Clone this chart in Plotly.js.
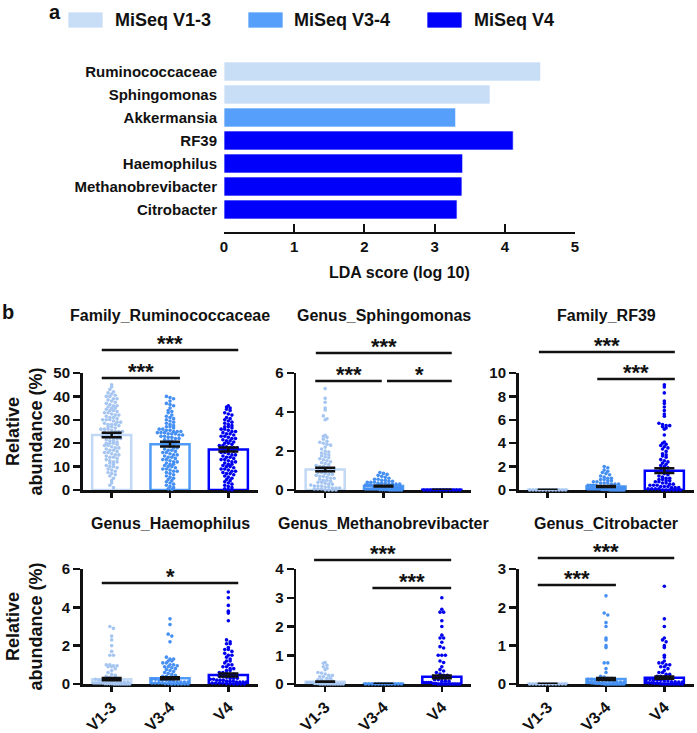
<!DOCTYPE html>
<html><head><meta charset="utf-8">
<script src="https://cdn.plot.ly/plotly-3.0.1.min.js"></script>
<style>html,body{margin:0;padding:0;background:#fff;}#chart{width:697px;height:733px;}</style>
</head><body><div id="chart"></div>
<script>
// ================= DATA =================
// Panel a: LEfSe LDA scores
const ldaTaxa  = ['Ruminococcaceae','Sphingomonas','Akkermansia','RF39','Haemophilus','Methanobrevibacter','Citrobacter'];
const ldaScore = [4.51, 3.79, 3.30, 4.12, 3.40, 3.39, 3.32];
const ldaGroup = [0, 0, 1, 2, 2, 2, 2];          // index into groupNames
const groupNames = ['MiSeq V1-3', 'MiSeq V3-4', 'MiSeq V4'];
const regionLabels = ['V1-3', 'V3-4', 'V4'];
const ldaTicks = [0, 1, 2, 3, 4, 5];

// Panel b: relative abundance (%) per sample
const panelTitles = ['Family_Ruminococcaceae','Genus_Sphingomonas','Family_RF39',
                     'Genus_Haemophilus','Genus_Methanobrevibacter','Genus_Citrobacter'];
const yMax  = [50, 6, 10, 6, 4, 3];
const yStep = [10, 2, 2, 2, 1, 1];

const rumV13 = [45,44,43,42,41.5,41,40.5,40,40,39,39,38.5,38,37.5,37,36.5,36,36,35.5,35,35,34.5,34,34,33.5,33,33,32.5,32,32,31.5,31,31,30.5,30,30,30,29.5,29,29,28.5,28,28,28,27.5,27,27,26.5,26,26,26,25.5,25,25,25,24.5,24,24,24,23.5,23,23,22.5,22,22,22,21.5,21,21,20.5,20,20,20,19.5,19,19,18.5,18,18,17.5,17,17,16.5,16,16,15.5,15,15,14.5,14,14,13.5,13,12.5,12,12,11.5,11,10.5,10,10,9.5,9,8.5,8,7.5,7,6.5,6,5,4,3,2,1];
const rumV34 = [40,39.5,39,38,37,36.5,36,35,34,33.5,33,32,31.5,31,30.5,30,29.5,29,28.5,28,27.5,27,27,26.5,26,26,25.5,25.5,25,25,25,24.5,24.5,24.5,24,24,24,23.5,23.5,23,23,22.5,22.5,22,22,21.5,21,21,20.5,20,20,19.5,19,19,18.5,18,18,17.5,17,17,16.5,16,16,15.5,15,15,14.5,14,14,13.5,13,13,12.5,12,12,11.5,11,11,10.5,10,10,9.5,9,9,8.5,8,8,7.5,7,6.5,6,5.5,5,4.5,4,3.5,3,2.5,2,1.5,1,0.5,0.2];
const rumV4  = [36,35.5,35,34.5,34,33,32.5,32,31,30.5,30,29.5,29,28.5,28,27.5,27,27,26.5,26,26,25.5,25,25,24.5,24,24,23.5,23,23,22.5,22,22,21.5,21,21,20.5,20,20,19.5,19,19,18.5,18,18,18,17.5,17,17,16.5,16,16,15.5,15,15,14.5,14,14,13.5,13,13,12.5,12,12,11.5,11,11,10.5,10,10,9.5,9,9,8.5,8,8,7.5,7,7,6.5,6,5.5,5,4.5,4,3.5,3,2.5,2,1.5,1,0.5,0.2,0];

const sphV13 = [5.2,4.7,4.5,4.2,4.1,3.8,3.65,3.6,2.8,2.75,2.7,2.6,2.5,2.45,2.4,2.35,2.3,2.2,2.1,2.0,1.95,1.9,1.85,1.8,1.75,1.7,1.65,1.6,1.55,1.5,1.45,1.4,1.35,1.3,1.25,1.2,1.2,1.15,1.1,1.1,1.05,1.0,1.0,0.95,0.9,0.9,0.85,0.8,0.8,0.75,0.7,0.7,0.65,0.6,0.6,0.55,0.5,0.5,0.45,0.4,0.4,0.35,0.3,0.3,0.25,0.2,0.2,0.2,0.15,0.15,0.1,0.1,0.1,0.05,0.05,0.05,0,0,0,0];
const sphV34 = [0.9,0.85,0.8,0.75,0.7,0.65,0.6,0.55,0.55,0.5,0.5,0.45,0.45,0.4,0.4,0.4,0.35,0.35,0.35,0.3,0.3,0.3,0.3,0.25,0.25,0.25,0.25,0.2,0.2,0.2,0.2,0.2,0.15,0.15,0.15,0.15,0.15,0.1,0.1,0.1,0.1,0.1,0.1,0.05,0.05,0.05,0.05,0.05,0.05,0.02,0.02,0.02,0.02,0,0,0,0,0,0];
const sphV4  = [0,0,0,0,0,0,0,0,0,0,0,0];

const rfV13 = [0,0,0,0,0,0,0,0,0,0,0,0];
const rfV34 = [2.0,1.9,1.7,1.6,1.5,1.4,1.3,1.2,1.1,1.0,1.0,0.9,0.9,0.8,0.8,0.7,0.7,0.6,0.6,0.6,0.5,0.5,0.5,0.4,0.4,0.4,0.4,0.3,0.3,0.3,0.3,0.3,0.2,0.2,0.2,0.2,0.2,0.2,0.1,0.1,0.1,0.1,0.1,0.1,0.1,0.05,0.05,0.05,0.05,0,0,0,0,0,0,0,0];
const rfV4  = [9.0,8.8,8.3,7.6,7.4,7.1,6.8,6.5,6.3,5.7,5.6,5.5,5.5,5.4,5.3,5.2,4.7,4.1,4.0,3.9,3.8,3.7,3.6,3.5,3.3,3.1,3.0,2.9,2.8,2.6,2.5,2.4,2.3,2.2,2.1,2.0,1.9,1.8,1.7,1.6,1.5,1.4,1.3,1.2,1.1,1.0,1.0,0.9,0.9,0.8,0.8,0.7,0.7,0.6,0.6,0.5,0.5,0.4,0.4,0.4,0.3,0.3,0.3,0.2,0.2,0.2,0.1,0.1,0.1,0.1,0,0,0,0,0,0];

const haeV13 = [3.0,2.9,2.5,2.3,2.0,1.7,1.5,1.5,1.0,1.0,0.95,0.95,0.9,0.9,0.8,0.7,0.6,0.5,0.45,0.4,0.35,0.3,0.3,0.25,0.2,0.2,0.2,0.15,0.15,0.1,0.1,0.1,0.1,0.05,0.05,0.05,0.05,0.05,0.02,0.02,0.02,0.02,0,0,0,0,0,0,0,0];
const haeV34 = [3.4,3.1,2.6,2.5,2.2,1.4,1.3,1.3,1.2,1.2,1.1,1.1,1.0,1.0,0.95,0.9,0.9,0.85,0.8,0.75,0.7,0.65,0.6,0.55,0.5,0.45,0.4,0.4,0.35,0.3,0.3,0.25,0.25,0.2,0.2,0.2,0.15,0.15,0.1,0.1,0.1,0.1,0.05,0.05,0.05,0.05,0.02,0.02,0,0,0,0,0,0];
const haeV4  = [4.8,4.5,4.1,3.8,3.7,3.3,2.3,2.2,2.1,2.1,1.9,1.8,1.8,1.7,1.6,1.5,1.5,1.4,1.3,1.2,1.2,1.1,1.0,1.0,0.9,0.9,0.8,0.8,0.7,0.7,0.6,0.6,0.55,0.5,0.5,0.45,0.4,0.4,0.35,0.3,0.3,0.3,0.25,0.25,0.2,0.2,0.2,0.15,0.15,0.15,0.1,0.1,0.1,0.1,0.05,0.05,0.05,0.05,0.02,0.02,0,0,0,0];

const metV13 = [0.75,0.72,0.65,0.6,0.55,0.5,0.4,0.38,0.35,0.3,0.3,0.25,0.25,0.2,0.2,0.15,0.15,0.1,0.1,0.1,0.05,0.05,0.05,0.02,0.02,0,0,0,0,0,0,0,0,0,0];
const metV34 = [0,0,0,0,0,0,0,0,0,0,0,0];
const metV4  = [3.0,2.6,2.5,2.5,2.2,2.0,1.7,1.6,1.6,1.45,1.3,1.25,1.0,1.0,1.0,0.8,0.75,0.6,0.5,0.45,0.4,0.35,0.3,0.3,0.25,0.2,0.2,0.15,0.15,0.1,0.1,0.1,0.05,0.05,0.05,0.05,0.02,0.02,0,0,0,0,0,0,0,0,0,0];

const citV13 = [0,0,0,0,0,0,0,0,0,0,0,0];
const citV34 = [2.3,1.85,1.8,1.6,1.5,1.2,1.15,1.0,0.95,0.55,0.55,0.4,0.3,0.2,0.18,0.15,0.15,0.12,0.12,0.1,0.1,0.1,0.08,0.08,0.06,0.06,0.05,0.05,0.04,0.04,0.03,0.03,0.02,0.02,0.02,0.01,0.01,0,0,0,0,0,0,0,0,0,0,0];
const citV4  = [2.55,1.7,1.5,1.2,1.15,1.1,1.0,0.95,0.75,0.7,0.6,0.55,0.55,0.5,0.5,0.45,0.45,0.4,0.35,0.3,0.3,0.25,0.25,0.2,0.2,0.18,0.15,0.15,0.12,0.12,0.1,0.1,0.1,0.08,0.08,0.06,0.06,0.05,0.05,0.04,0.03,0.03,0.02,0.02,0.01,0,0,0,0,0,0,0,0];

// bar heights (mean) and error (SEM); null = no error bar drawn
const rumMean = [23.5, 19.6, 17.3],  rumSem = [1.0, 1.05, 0.85];
const sphMean = [1.05, 0.2, 0.01],   sphSem = [0.09, 0.02, null];
const rfMean  = [0.02, 0.3, 1.65],   rfSem  = [null, 0.04, 0.2];
const haeMean = [0.25, 0.3, 0.47],   haeSem = [0.06, 0.05, 0.08];
const metMean = [0.08, 0.01, 0.25],  metSem = [0.005, null, 0.05];
const citMean = [0.005, 0.13, 0.165],citSem = [null, 0.025, 0.03];

// significance comparisons
const sigLabels = [
  [{a:0,b:1,t:'***'},{a:0,b:2,t:'***'}],
  [{a:0,b:1,t:'***'},{a:1,b:2,t:'*'},{a:0,b:2,t:'***'}],
  [{a:1,b:2,t:'***'},{a:0,b:2,t:'***'}],
  [{a:0,b:2,t:'*'}],
  [{a:1,b:2,t:'***'},{a:0,b:2,t:'***'}],
  [{a:0,b:1,t:'***'},{a:0,b:2,t:'***'}]
];

// ================= STYLE / GEOMETRY =================
const W = 697, H = 733;
const FONT = "'Liberation Sans', Arial, Helvetica, sans-serif";
const barFill   = ['#c8ddf6', '#56a0fb', '#0000fb'];
const barEdge   = ['#c2d9f5', '#4f9bf5', '#0000ff'];
const dotColor  = ['#a6c6f1', '#4690f3', '#0000ee'];
const px = x => x / W;
const py = y => 1 - y / H;

const groups = [
  [rumV13, rumV34, rumV4], [sphV13, sphV34, sphV4], [rfV13, rfV34, rfV4],
  [haeV13, haeV34, haeV4], [metV13, metV34, metV4], [citV13, citV34, citV4]
];
const means = [rumMean, sphMean, rfMean, haeMean, metMean, citMean];
const sems  = [rumSem, sphSem, rfSem, haeSem, metSem, citSem];

const colX0 = [82.5, 296, 518.5], panelW = 175;
const rowTop = [373, 569], rowBot = [490, 684];
// pixel y of each significance line (same order as sigLabels) and end offsets
const sigY = [[378, 350], [381, 381, 353], [379, 352], [583], [588, 560], [585, 558]];
const sigEnds = [[[-0.17,0.17],[-0.17,0.17]], [[-0.17,-0.03],[0.06,0.17],[-0.16,0.17]],
                 [[-0.15,0.18],[-0.15,0.18]], [[-0.17,0.17]], [[-0.19,0.16],[-0.19,0.16]], [[-0.17,0.17],[-0.17,0.17]]];

// ================= BUILD =================
const traces = [], shapes = [], annotations = [];
const layout = {
  width: W, height: H, margin: {l:0, r:0, t:0, b:0},
  paper_bgcolor: '#fff', plot_bgcolor: 'rgba(0,0,0,0)',
  showlegend: false, font: {family: FONT, color: '#111'},
  bargap: 0
};

// ---- panel a ----
traces.push({
  type: 'bar', orientation: 'h', xaxis: 'x', yaxis: 'y',
  x: ldaScore, y: ldaTaxa.map((_, i) => i), width: 0.83,
  marker: {color: ldaGroup.map(g => barFill[g]), line: {color: 'rgba(255,255,255,0.7)', width: 1}},
  hoverinfo: 'skip'
});
layout.xaxis = {
  domain: [px(224), px(575)], range: [0, 5], anchor: 'y',
  showline: true, linewidth: 2, linecolor: '#111', ticks: 'inside', ticklen: 8, tickwidth: 2, tickcolor: '#111',
  tickvals: ldaTicks, ticktext: ldaTicks.map(String),
  tickfont: {family: FONT, size: 15, color: '#111', weight: 'bold'},
  showgrid: false, zeroline: false, fixedrange: true
};
layout.yaxis = {
  domain: [py(232), py(57.7)], range: [6.978, -0.6], anchor: 'x',
  tickvals: ldaTaxa.map((_, i) => i), ticktext: ldaTaxa, ticks: '', showline: false,
  ticklabelstandoff: 6,
  tickfont: {family: FONT, size: 15, color: '#111', weight: 'bold'},
  showgrid: false, zeroline: false, fixedrange: true
};
annotations.push({xref:'paper', yref:'paper', x: px(399.5), y: py(272), text: 'LDA score (log 10)', showarrow: false,
  xanchor: 'center', yanchor: 'middle', font: {family: FONT, size: 16, color: '#111', weight: 'bold'}});
// legend
const legRectX = [68, 248, 427], legTextX = [113, 292, 472];
groupNames.forEach((g, i) => {
  shapes.push({type: 'rect', xref: 'paper', yref: 'paper', x0: px(legRectX[i]), x1: px(legRectX[i] + 35),
    y0: py(28), y1: py(12), fillcolor: barFill[i], line: {color: 'rgba(255,255,255,0.7)', width: 1}});
  annotations.push({xref:'paper', yref:'paper', x: px(legTextX[i]), y: py(20), text: g, showarrow: false,
    xanchor: 'left', yanchor: 'middle', font: {family: FONT, size: 18, color: '#111', weight: 'bold'}});
});
annotations.push({xref:'paper', yref:'paper', x: px(55), y: py(12), text: 'a', showarrow: false,
  xanchor: 'center', yanchor: 'middle', font: {family: FONT, size: 20, color: '#111', weight: 'bold'}});
annotations.push({xref:'paper', yref:'paper', x: px(8), y: py(312), text: 'b', showarrow: false,
  xanchor: 'center', yanchor: 'middle', font: {family: FONT, size: 20, color: '#111', weight: 'bold'}});

// ---- panel b ----
const pxPerCat = panelW / 3;
function swarm(vals, cat, pxPerUnit) {
  const bin = 3.3, sp = 3.6, maxHalf = 18;
  const rows = {};
  vals.forEach((v, i) => { const k = Math.round(v * pxPerUnit / bin); (rows[k] = rows[k] || []).push(i); });
  const xs = new Array(vals.length);
  Object.keys(rows).forEach(k => {
    const idx = rows[k], n = idx.length;
    let s = sp;
    if (n > 1 && (n - 1) * s / 2 > maxHalf) s = 2 * maxHalf / (n - 1);
    idx.forEach((ii, j) => { xs[ii] = cat + ((j - (n - 1) / 2) * s) / pxPerCat; });
  });
  return xs;
}

for (let p = 0; p < 6; p++) {
  const row = Math.floor(p / 3), col = p % 3;
  const ax = p + 2, xa = 'x' + ax, ya = 'y' + ax;
  const x0 = colX0[col], top = rowTop[row], bot = rowBot[row];
  const pxPerUnit = (bot - top) / yMax[p];

  layout['xaxis' + ax] = {
    domain: [px(x0), px(x0 + panelW)], range: [-0.5, 2.5], anchor: ya,
    showline: true, linewidth: 2.5, linecolor: '#111', ticks: 'outside', ticklen: 5, tickwidth: 2.5, tickcolor: '#111',
    tickvals: [0, 1, 2], ticktext: regionLabels, showticklabels: row === 1, tickangle: -45,
    tickfont: {family: FONT, size: 16, color: '#111', weight: 'bold'},
    showgrid: false, zeroline: false, fixedrange: true, layer: 'below traces'
  };
  layout['yaxis' + ax] = {
    domain: [py(bot), py(top)], range: [0, yMax[p]], anchor: xa,
    tick0: 0, dtick: yStep[p], showline: true, linewidth: 2.5, linecolor: '#111',
    ticks: 'outside', ticklen: 7, tickwidth: 2.5, tickcolor: '#111',
    tickfont: {family: FONT, size: 15, color: '#111', weight: 'bold'},
    showgrid: false, zeroline: false, fixedrange: true, layer: 'below traces'
  };

  // bars (outlined)
  traces.push({
    type: 'bar', xaxis: xa, yaxis: ya, x: [0, 1, 2], y: means[p], width: 0.67,
    marker: {color: 'rgba(255,255,255,0)', line: {color: barEdge, width: 2.5}}, hoverinfo: 'skip'
  });
  // dots
  groups[p].forEach((vals, g) => {
    traces.push({
      type: 'scatter', mode: 'markers', xaxis: xa, yaxis: ya, cliponaxis: false,
      x: swarm(vals, g, pxPerUnit), y: vals,
      marker: {size: 3.6, color: dotColor[g], line: {width: 0}}, hoverinfo: 'skip'
    });
  });
  // mean +/- SEM
  traces.push({
    type: 'scatter', mode: 'markers', xaxis: xa, yaxis: ya, x: [0, 1, 2], y: means[p],
    marker: {size: 1, color: 'rgba(0,0,0,0)'},
    error_y: {type: 'data', array: sems[p], visible: true, color: '#111', thickness: 2.5, width: 10},
    hoverinfo: 'skip'
  });

  // title
  annotations.push({xref:'paper', yref:'paper', x: px(x0 + panelW / 2), y: py(row === 0 ? 315 : 523),
    text: panelTitles[p], showarrow: false, xanchor: 'center', yanchor: 'middle',
    font: {family: FONT, size: 16, color: '#111', weight: 'bold'}});

  // significance
  sigLabels[p].forEach((s, k) => {
    const e = sigEnds[p][k];
    const xl = x0 + (s.a + e[0] + 0.5) * pxPerCat, xr = x0 + (s.b + e[1] + 0.5) * pxPerCat;
    const yl = sigY[p][k];
    shapes.push({type: 'line', xref: 'paper', yref: 'paper', x0: px(xl), x1: px(xr), y0: py(yl), y1: py(yl),
      line: {color: '#111', width: 2.5}});
    annotations.push({xref:'paper', yref:'paper', x: px((xl + xr) / 2), y: py(yl - 7), text: s.t, showarrow: false,
      xanchor: 'center', yanchor: 'middle', font: {family: FONT, size: 22, color: '#111', weight: 'bold'}});
  });

  if (col === 0) {
    annotations.push({xref:'paper', yref:'paper', x: px(24), y: py((top + bot) / 2), text: 'Relative<br>abundance (%)',
      textangle: -90, showarrow: false, xanchor: 'center', yanchor: 'middle',
      font: {family: FONT, size: 18, color: '#111', weight: 'bold'}});
  }
}

layout.shapes = shapes;
layout.annotations = annotations;
Plotly.newPlot('chart', traces, layout, {displayModeBar: false, staticPlot: true});
</script></body></html>
